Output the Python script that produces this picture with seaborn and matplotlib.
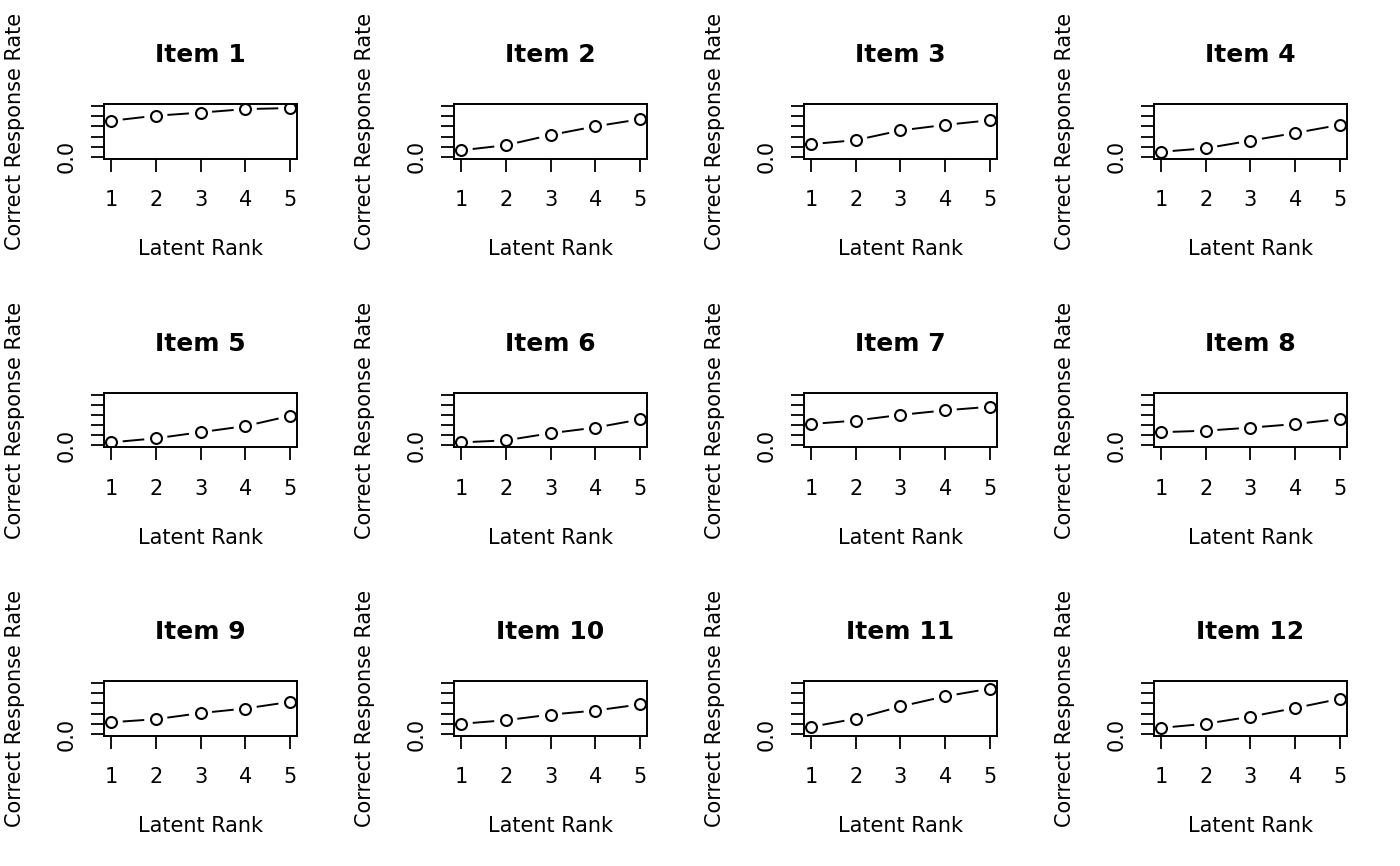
import matplotlib
matplotlib.use("Agg")
import matplotlib.pyplot as plt
import seaborn as sns
import pandas as pd

# item reference profiles (correct response rate per latent rank)
ranks = [1, 2, 3, 4, 5]
item_1 = [0.71, 0.81, 0.87, 0.94, 0.96]
item_2 = [0.13, 0.23, 0.43, 0.60, 0.74]
item_3 = [0.25, 0.33, 0.52, 0.63, 0.72]
item_4 = [0.10, 0.17, 0.32, 0.47, 0.63]
item_5 = [0.06, 0.14, 0.26, 0.38, 0.58]
item_6 = [0.06, 0.10, 0.24, 0.35, 0.51]
item_7 = [0.42, 0.49, 0.60, 0.69, 0.76]
item_8 = [0.26, 0.29, 0.35, 0.42, 0.52]
item_9 = [0.23, 0.29, 0.41, 0.50, 0.63]
item_10 = [0.20, 0.27, 0.38, 0.46, 0.58]
item_11 = [0.14, 0.30, 0.54, 0.74, 0.89]
item_12 = [0.12, 0.20, 0.34, 0.51, 0.69]

items = [item_1, item_2, item_3, item_4, item_5, item_6,
         item_7, item_8, item_9, item_10, item_11, item_12]
titles = [f"Item {i}" for i in range(1, 13)]
y_ticks = [0.0, 0.2, 0.4, 0.6, 0.8, 1.0]
y_ticklabels = ["0.0", "", "", "", "", ""]

sns.set_style("white")
plt.rcParams["font.family"] = ["DejaVu Sans"]
plt.rcParams["text.color"] = "black"
plt.rcParams["axes.labelcolor"] = "black"
plt.rcParams["xtick.color"] = "black"
plt.rcParams["ytick.color"] = "black"

fig, axes = plt.subplots(3, 4, figsize=(14, 8.66), dpi=100)
fig.subplots_adjust(left=104 / 1400, right=1347 / 1400,
                    top=1 - 104 / 866, bottom=1 - 736 / 866,
                    wspace=0.813, hspace=4.25)

for ax, vals, title in zip(axes.flat, items, titles):
    df = pd.DataFrame({"rank": ranks, "rate": vals})
    sns.lineplot(data=df, x="rank", y="rate", ax=ax, color="black",
                 linewidth=1.4, zorder=1.5)
    # white halo so the line stops short of each point (like R type="b")
    sns.scatterplot(data=df, x="rank", y="rate", ax=ax, s=280,
                    color="white", edgecolor="none", zorder=2)
    sns.scatterplot(data=df, x="rank", y="rate", ax=ax, s=62,
                    facecolor="white", edgecolor="black", linewidth=1.5,
                    zorder=3)
    ax.set_xlim(0.84, 5.16)
    ax.set_ylim(-0.04, 1.04)
    ax.set_xticks(ranks)
    ax.set_yticks(y_ticks)
    ax.set_yticklabels(y_ticklabels, rotation=90, va="center")
    ax.tick_params(axis="both", direction="out", length=9.5, width=1.3,
                   labelsize=15, left=True, bottom=True)
    ax.tick_params(axis="x", pad=13)
    ax.tick_params(axis="y", pad=10)
    for sp in ax.spines.values():
        sp.set_visible(True)
        sp.set_color("black")
        sp.set_linewidth(1.4)
        sp.set_zorder(4)
    ax.set_title(title, fontsize=18, fontweight="bold", pad=30)
    ax.set_xlabel("Latent Rank", fontsize=15, labelpad=21)
    ax.set_ylabel("Correct Response Rate", fontsize=15, labelpad=23)

fig.savefig("out.png", dpi=100, facecolor="white")
